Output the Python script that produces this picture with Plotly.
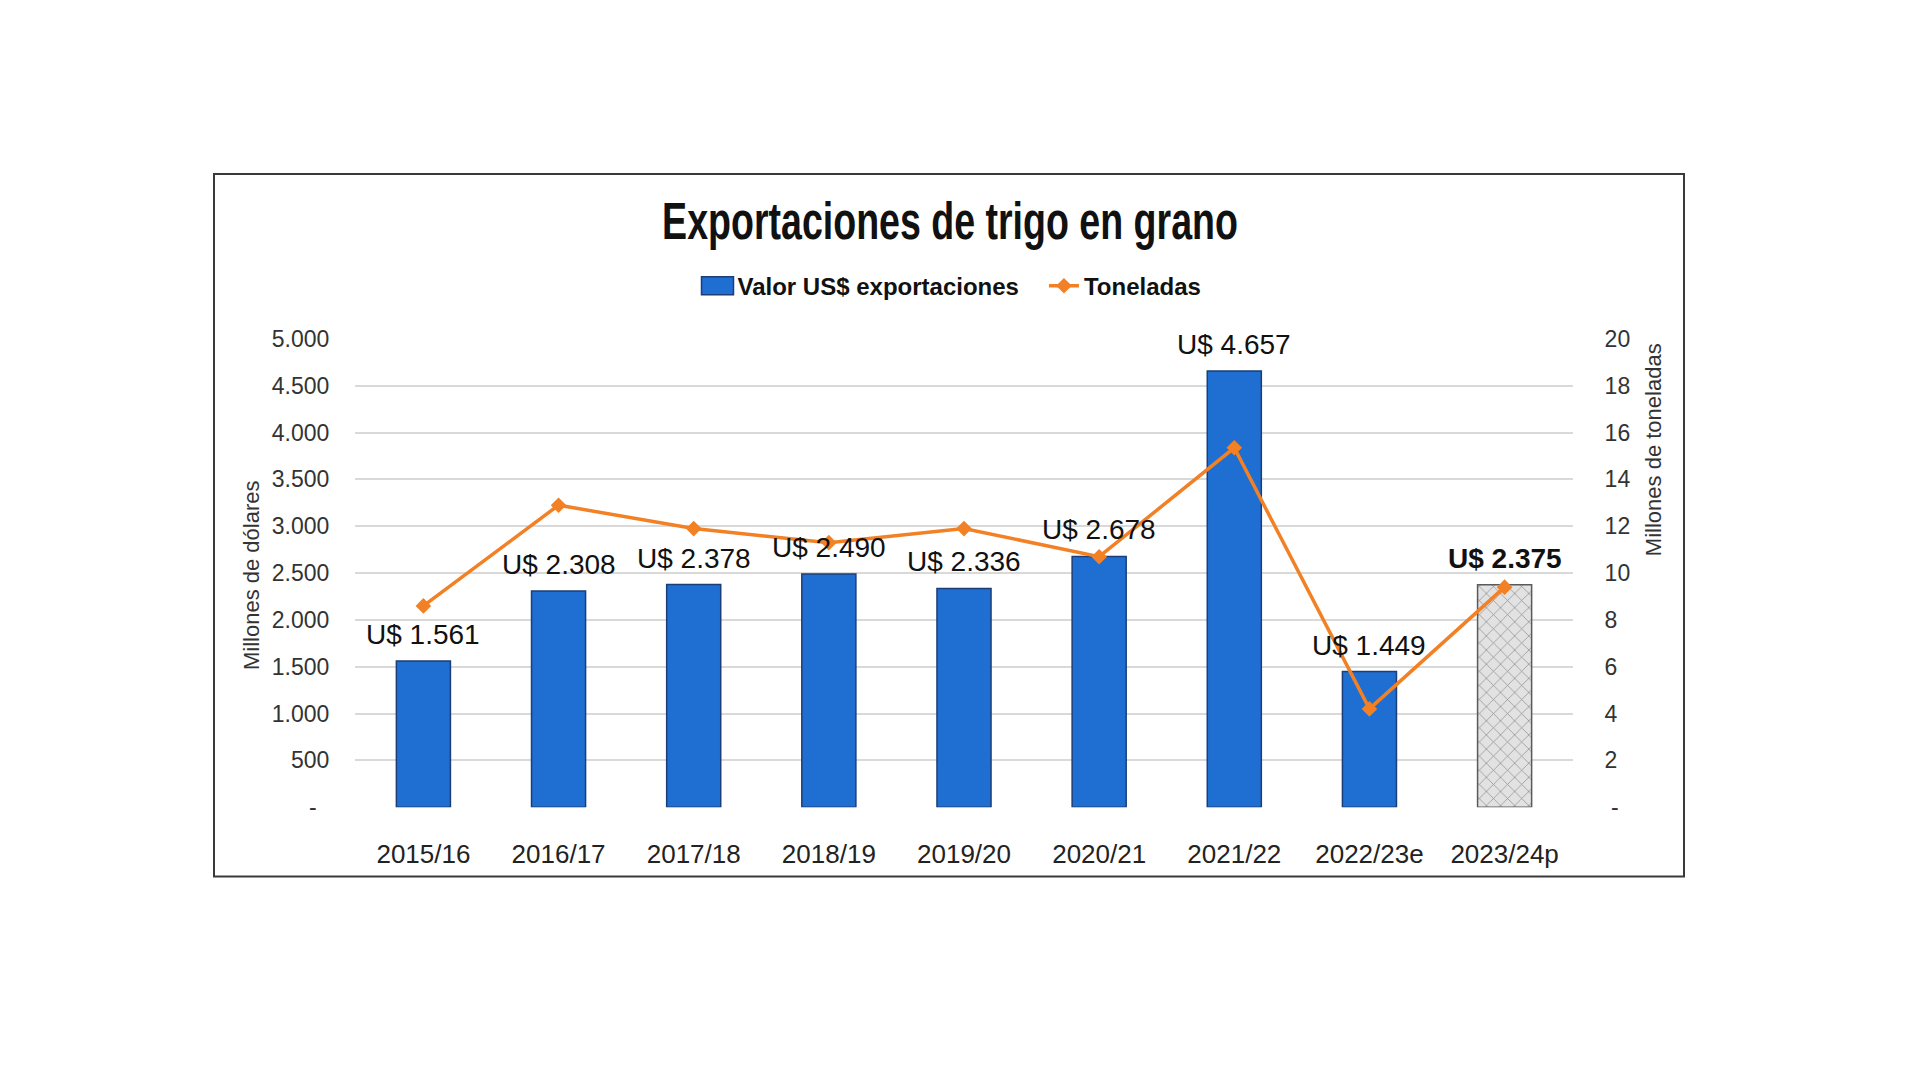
import plotly.graph_objects as go

categories = ["2015/16", "2016/17", "2017/18", "2018/19", "2019/20",
              "2020/21", "2021/22", "2022/23e", "2023/24p"]
valor_usd = [1561, 2308, 2378, 2490, 2336, 2678, 4657, 1449, 2375]
toneladas = [8.6, 12.9, 11.9, 11.3, 11.9, 10.7, 15.35, 4.2, 9.4]
value_labels = ["U$ 1.561", "U$ 2.308", "U$ 2.378", "U$ 2.490", "U$ 2.336",
                "U$ 2.678", "U$ 4.657", "U$ 1.449", "U$ 2.375"]
left_tickvals = [0, 500, 1000, 1500, 2000, 2500, 3000, 3500, 4000, 4500, 5000]
left_ticktext = ["-\u00a0\u00a0", "500", "1.000", "1.500", "2.000", "2.500",
                 "3.000", "3.500", "4.000", "4.500", "5.000"]
right_tickvals = [0, 2, 4, 6, 8, 10, 12, 14, 16, 18, 20]
right_ticktext = ["\u00a0-", "2", "4", "6", "8", "10", "12", "14", "16", "18", "20"]

BLUE = "#1F6ED2"
NAVY = "#1B3E78"
ORANGE = "#F28024"
FONT = "Liberation Sans, Arial, sans-serif"

n = len(categories)
bar_colors = [BLUE] * (n - 1) + ["#E2E2E2"]
line_colors = [NAVY] * (n - 1) + ["#5A5A5A"]
patterns = [""] * (n - 1) + ["x"]

fig = go.Figure()
fig.add_trace(go.Bar(
    x=categories, y=valor_usd, name="Valor US$ exportaciones\u00a0\u00a0\u00a0",
    width=0.4,
    marker=dict(color=bar_colors,
                line=dict(color=line_colors, width=1.5),
                pattern=dict(shape=patterns, fgcolor="#C4C4C4", bgcolor="#E2E2E2",
                             size=10, solidity=0.15)),
    yaxis="y",
))
fig.add_trace(go.Scatter(
    x=categories, y=toneladas, name="Toneladas", mode="lines+markers",
    line=dict(color=ORANGE, width=3.5),
    marker=dict(symbol="diamond", size=12, color=ORANGE),
    yaxis="y2",
))

annotations = []
for i, (c, v, t) in enumerate(zip(categories, valor_usd, value_labels)):
    bold = (i == n - 1)
    annotations.append(dict(
        x=c, y=v, xref="x", yref="y", text=("<b>%s</b>" % t) if bold else t,
        showarrow=False, yanchor="bottom", yshift=9,
        font=dict(family=FONT, size=28, color="#111111"),
    ))
annotations.append(dict(
    x=251 / 1920, y=1 - 576 / 1073, xref="paper", yref="paper",
    xanchor="center", yanchor="middle",
    text="Millones de dólares", textangle=-90, showarrow=False,
    font=dict(family=FONT, size=22, color="#333333"),
))
annotations.append(dict(
    x=1653 / 1920, y=1 - 448 / 1073, xref="paper", yref="paper",
    xanchor="center", yanchor="middle",
    text="Millones de toneladas", textangle=-90, showarrow=False,
    font=dict(family=FONT, size=22, color="#333333"),
))

fig.update_layout(
    width=1920, height=1073,
    margin=dict(l=0, r=0, t=0, b=0),
    paper_bgcolor="white", plot_bgcolor="white",
    title=dict(text="<b>Exportaciones de trigo en grano</b>",
               x=950 / 1920, y=1 - 213 / 1073, xanchor="center", yanchor="middle",
               xref="paper", yref="paper",
               font=dict(family=FONT, size=52, color="#111111")),
    showlegend=True,
    legend=dict(orientation="h", x=952 / 1920, y=1 - 280 / 1073,
                xanchor="center", yanchor="middle",
                font=dict(family=FONT, size=24, color="#111111", weight="bold"),
                bgcolor="rgba(0,0,0,0)"),
    xaxis=dict(domain=[355 / 1920, 1573 / 1920], type="category",
               showgrid=False, showline=False, zeroline=False,
               ticks="outside", ticklen=24, tickcolor="rgba(0,0,0,0)",
               tickfont=dict(family=FONT, size=26, color="#222222")),
    yaxis=dict(domain=[1 - 814 / 1073, 1 - 334 / 1073], range=[0, 5000],
               tickvals=left_tickvals, ticktext=left_ticktext,
               showgrid=True, gridcolor="#D9D9D9", gridwidth=2,
               zeroline=False, showline=False,
               ticks="outside", ticklen=20, tickcolor="rgba(0,0,0,0)",
               tickfont=dict(family=FONT, size=23, color="#333333")),
    yaxis2=dict(overlaying="y", side="right", range=[0, 20],
                tickvals=right_tickvals, ticktext=right_ticktext,
                showgrid=False, zeroline=False, showline=False,
                ticks="outside", ticklen=26, tickcolor="rgba(0,0,0,0)",
                tickfont=dict(family=FONT, size=23, color="#333333")),
    annotations=annotations,
    shapes=[dict(type="rect", xref="paper", yref="paper",
                 x0=214 / 1920, x1=1684 / 1920, y0=1 - 885 / 1073, y1=1 - 165 / 1073,
                 line=dict(color="#3A3A3A", width=2), fillcolor="rgba(0,0,0,0)",
                 layer="below")],
)

post = """
document.documentElement.style.margin = '0';
document.body.style.margin = '0';
document.body.style.overflow = 'hidden';
var gd = document.getElementById('{plot_id}');
var t = gd.querySelector('text.gtitle');
if (t) {
  var bb = t.getBBox();
  var cx = bb.x + bb.width / 2;
  var s = 576 / bb.width;
  t.setAttribute('transform', 'translate(' + cx + ',0) scale(' + s + ',1) translate(' + (-cx) + ',0)');
}
var lp = gd.querySelectorAll('.legend .traces .legendpoints path');
lp.forEach(function (p) {
  var d = p.getAttribute('d') || '';
  if (d.replace(/\\s/g, '') === 'M6,6H-6V-6H6Z') { p.setAttribute('d', 'M16,9H-16V-9H16Z'); }
});
"""

fig.write_html("out.html", post_script=post, config={"displayModeBar": False})
